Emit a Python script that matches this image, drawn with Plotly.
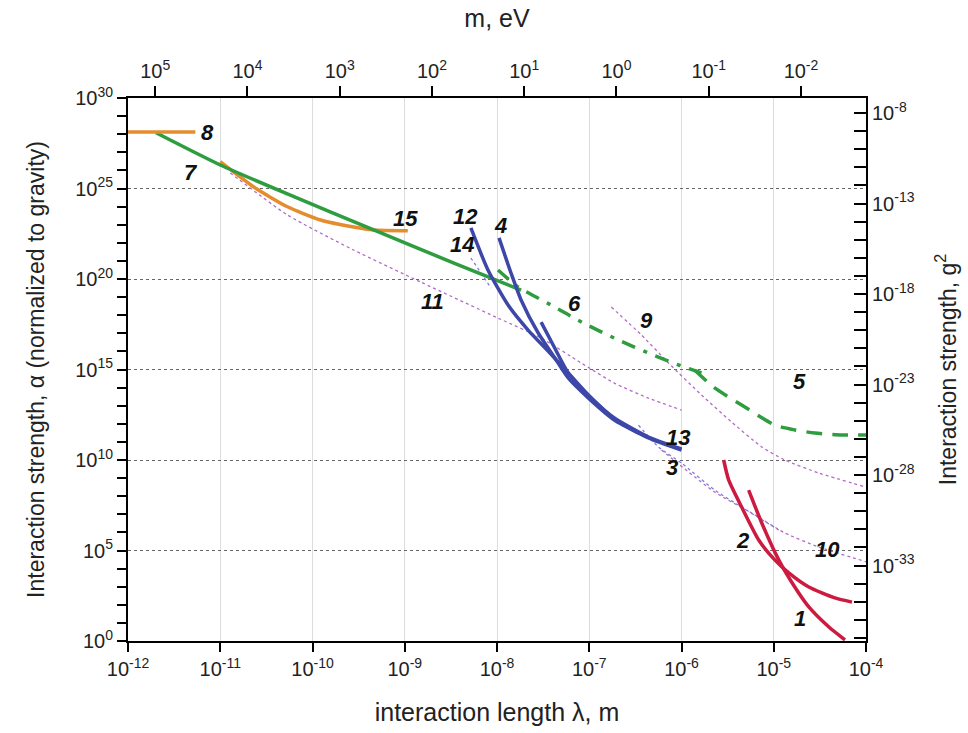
import numpy as np
import plotly.graph_objects as go

# ---- data (log10 of lambda [m], log10 of alpha) ----
c8_loglam = [-12.0, -11.27]
c8_logalpha = [28.12, 28.12]

c7_loglam = [-11.696, -11.0, -10.272, -9.337, -8.467, -7.739]
c7_logalpha = [28.08, 26.30, 24.70, 22.71, 20.88, 19.39]

c15_loglam = [-11.0, -10.641, -10.272, -9.913, -9.554, -9.337, -8.967]
c15_logalpha = [26.48, 25.10, 23.99, 23.26, 22.87, 22.71, 22.67]

c6_loglam = [-7.989, -7.772, -7.413, -7.065, -6.685, -6.359, -6.0, -5.783]
c6_logalpha = [20.50, 19.56, 18.56, 17.57, 16.63, 15.91, 15.19, 14.81]

c5_loglam = [-5.859, -5.641, -5.348, -4.989, -4.772, -4.554, -4.261, -4.0]
c5_logalpha = [14.97, 13.98, 13.04, 11.93, 11.66, 11.49, 11.38, 11.38]

c11_loglam = [-10.891, -10.272, -9.554, -8.826, -7.989, -7.522, -7.087, -6.728, -6.359, -6.0]
c11_logalpha = [25.86, 23.54, 21.60, 19.83, 17.84, 16.74, 15.36, 14.25, 13.42, 12.76]

c9_loglam = [-6.761, -6.435, -6.141, -5.783, -5.457, -5.130, -4.880, -4.511, -4.0]
c9_logalpha = [18.45, 16.91, 15.36, 13.59, 12.10, 10.72, 10.0, 9.28, 8.50]

c10_loglam = [-6.217, -5.641, -5.239, -4.88, -4.511, -4.0]
c10_logalpha = [10.55, 8.23, 7.07, 5.97, 5.19, 4.38]

c3_loglam = [-6.467, -6.25, -6.0, -5.641, -5.348, -4.946]
c3_logalpha = [11.93, 10.72, 9.83, 8.34, 7.40, 6.13]

c14_loglam = [-8.283, -8.065]
c14_logalpha = [21.16, 19.50]

c12_loglam = [-8.283, -8.098, -7.880, -7.663, -7.446, -7.228, -7.011, -6.728, -6.359, -6.0]
c12_logalpha = [22.82, 20.50, 18.56, 17.18, 16.02, 14.81, 13.59, 12.27, 11.22, 10.55]

c4_loglam = [-7.978, -7.848, -7.739, -7.554, -7.380, -7.228, -7.011, -6.728, -6.45]
c4_logalpha = [22.27, 20.33, 18.84, 17.02, 15.69, 14.53, 13.43, 12.21, 11.45]

c13_loglam = [-7.522, -7.380, -7.228, -6.978, -6.728, -6.359, -6.0]
c13_logalpha = [17.62, 16.24, 14.81, 13.43, 12.32, 11.27, 10.61]

c2_loglam = [-5.543, -5.489, -5.348, -5.163, -4.989, -4.837, -4.620, -4.337, -4.152]
c2_logalpha = [10.0, 8.90, 7.40, 5.58, 4.48, 3.76, 2.98, 2.38, 2.15]

c1_loglam = [-5.272, -5.130, -4.946, -4.772, -4.620, -4.402, -4.228]
c1_logalpha = [8.34, 6.52, 4.48, 2.98, 1.88, 0.77, 0.06]

label_names = ["8", "7", "15", "12", "14", "4", "11", "6", "9", "5", "13", "3", "2", "10", "1"]
label_loglam = [-11.141, -11.315, -8.989, -8.337, -8.380, -7.967, -8.696, -7.163, -6.380, -4.717, -6.043, -6.098, -5.337, -4.413, -4.717]
label_logalpha = [28.12, 25.91, 23.37, 23.43, 21.88, 22.98, 18.78, 18.67, 17.68, 14.36, 11.27, 9.56, 5.58, 5.03, 1.22]

# axis ticks
x_exps = list(range(-12, -3))
y_exps = list(range(0, 31))
mass_exps = [5, 4, 3, 2, 1, 0, -1, -2]
g2_exps = list(range(-37, -7))
HBARC = 1.973e-7      # eV*m, m = hbar*c / lambda
G2_OFFSET = -37.17    # log10(g^2) = log10(alpha) + offset

ORANGE = "#E58C2C"
GREEN = "#2E9D3F"
BLUE = "#3D47A8"
RED = "#CC1A40"
PURPLE = "#B26CC8"
LBLUE = "#7C7CDC"

fig = go.Figure()


def add(lx, ly, color, width, dash="solid"):
    fig.add_trace(go.Scatter(
        x=10 ** np.array(lx), y=10 ** np.array(ly), mode="lines",
        line=dict(color=color, width=width, dash=dash, shape="spline", smoothing=0.6),
        showlegend=False, hoverinfo="skip"))


# thin dotted curves first
add(c11_loglam, c11_logalpha, PURPLE, 1.3, "dot")
add(c9_loglam, c9_logalpha, PURPLE, 1.3, "dot")
add(c10_loglam, c10_logalpha, PURPLE, 1.3, "dot")
add(c3_loglam, c3_logalpha, LBLUE, 1.3, "dot")
add(c14_loglam, c14_logalpha, LBLUE, 1.3, "dot")
# thick curves
add(c15_loglam, c15_logalpha, ORANGE, 3.5)
add(c7_loglam, c7_logalpha, GREEN, 3.5)
add(c8_loglam, c8_logalpha, ORANGE, 3.5)
add(c6_loglam, c6_logalpha, GREEN, 3.5, "14px,9px,4px,9px")
add(c5_loglam, c5_logalpha, GREEN, 3.5, "16px,10px")
add(c12_loglam, c12_logalpha, BLUE, 3.5)
add(c4_loglam, c4_logalpha, BLUE, 3.5)
add(c13_loglam, c13_logalpha, BLUE, 3.5)
add(c2_loglam, c2_logalpha, RED, 3.5)
add(c1_loglam, c1_logalpha, RED, 3.5)

# invisible trace to activate the top / right axes
fig.add_trace(go.Scatter(x=[1e-12, 1e-4], y=[10 ** G2_OFFSET, 10 ** (30 + G2_OFFSET)],
                         xaxis="x2", yaxis="y2", mode="markers",
                         marker=dict(opacity=0), showlegend=False, hoverinfo="skip"))

FONT = "Liberation Sans, Arial"

for name, lx, ly in zip(label_names, label_loglam, label_logalpha):
    fig.add_annotation(x=lx, y=ly, xref="x", yref="y", text=f"<b><i>{name}</i></b>",
                       showarrow=False, font=dict(family=FONT, size=22, color="#111"))


def sup(e):
    return f"10<sup>{e}</sup>"


tickfont = dict(family=FONT, size=20, color="#222")
htitle = dict(family=FONT, size=25, color="#222")
vtitle = dict(family=FONT, size=23, color="#222")

fig.update_layout(
    width=968, height=733,
    margin=dict(l=128, r=102, t=98, b=92),
    paper_bgcolor="white", plot_bgcolor="white",
    xaxis=dict(type="log", range=[-12, -4], tickmode="array",
               tickvals=[10.0 ** e for e in x_exps], ticktext=[sup(e) for e in x_exps],
               ticks="outside", ticklen=9, tickwidth=2, tickcolor="black",
               showline=True, linecolor="black", linewidth=2,
               showgrid=True, gridcolor="#dcdcdc", gridwidth=1,
               tickfont=tickfont, zeroline=False,
               title=dict(text="interaction length λ, m", font=htitle, standoff=24)),
    xaxis2=dict(type="log", range=[-12, -4], overlaying="x", side="top", anchor="y",
                tickmode="array", tickvals=[HBARC / 10.0 ** e for e in mass_exps],
                ticktext=[sup(e) for e in mass_exps],
                ticks="outside", ticklen=10, tickwidth=2, tickcolor="black",
                showline=True, linecolor="black", linewidth=2, showgrid=False,
                tickfont=tickfont, zeroline=False,
                title=dict(text="m, eV", font=htitle, standoff=22)),
    yaxis=dict(type="log", range=[0, 30], tickmode="array",
               tickvals=[10.0 ** e for e in y_exps if e % 5 == 0],
               ticktext=[sup(e) for e in y_exps if e % 5 == 0],
               ticks="outside", ticklen=9, tickwidth=2, tickcolor="black",
               minor=dict(tickmode="array", tickvals=[10.0 ** e for e in y_exps],
                          ticks="outside", ticklen=9, tickwidth=2, tickcolor="black", showgrid=False),
               showline=True, linecolor="black", linewidth=2,
               showgrid=True, gridcolor="#666", griddash="dot", gridwidth=1.3,
               tickfont=tickfont, zeroline=False,
               title=dict(text="Interaction strength, α (normalized to gravity)", font=vtitle, standoff=24)),
    yaxis2=dict(type="log", range=[G2_OFFSET, 30 + G2_OFFSET], overlaying="y", side="right", anchor="x",
                tickmode="array",
                tickvals=[10.0 ** e for e in g2_exps if (e + 8) % 5 == 0],
                ticktext=[sup(e) for e in g2_exps if (e + 8) % 5 == 0],
                ticks="inside", ticklen=12, tickwidth=2, tickcolor="black",
                minor=dict(tickmode="array", tickvals=[10.0 ** e for e in g2_exps],
                           ticks="inside", ticklen=12, tickwidth=2, tickcolor="black", showgrid=False),
                showline=True, linecolor="black", linewidth=2, showgrid=False,
                tickfont=tickfont, zeroline=False,
                title=dict(text="Interaction strength, g<sup>2</sup>", font=vtitle, standoff=26)),
)

fig.write_html("out.html")
